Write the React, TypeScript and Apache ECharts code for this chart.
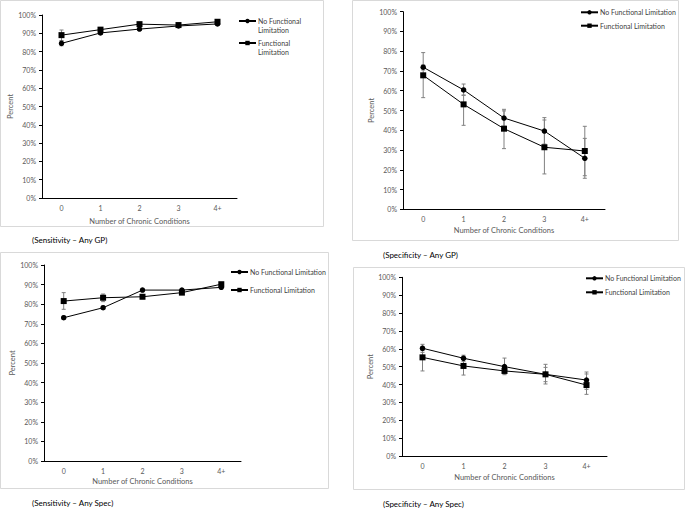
import React, { useEffect, useRef } from "react";
import * as echarts from "echarts";

const categories = ["0", "1", "2", "3", "4+"];
const legendNames = ["No Functional Limitation", "Functional Limitation"];
const captions = [
  "(Sensitivity – Any GP)",
  "(Specificity – Any GP)",
  "(Sensitivity – Any Spec)",
  "(Specificity – Any Spec)",
];

// Sensitivity – Any GP
const sensGpNoFL = [84.5, 90.2, 92.3, 94.0, 95.1];
const sensGpFL = [89.0, 92.0, 95.0, 94.5, 96.3];
const sensGpNoFLCi = [[83.2, 85.8], [89.4, 91.0], [91.6, 93.0], [93.4, 94.6], [94.5, 95.7]];
const sensGpFLCi = [[86.0, 91.8], [91.0, 93.0], [94.0, 96.0], [93.6, 95.4], [95.4, 97.2]];

// Specificity – Any GP
const specGpNoFL = [71.9, 60.4, 46.2, 39.6, 25.8];
const specGpFL = [67.8, 53.1, 40.8, 31.4, 29.5];
const specGpNoFLCi = [[70.5, 79.3], [57.7, 63.4], [42.0, 50.6], [33.0, 46.4], [15.7, 35.9]];
const specGpFLCi = [[56.5, 73.0], [42.5, 57.8], [30.7, 49.8], [17.9, 45.2], [17.0, 42.0]];

// Sensitivity – Any Spec
const sensSpNoFL = [73.1, 78.2, 87.2, 87.2, 88.6];
const sensSpFL = [81.6, 83.3, 83.8, 85.9, 90.2];
const sensSpNoFLCi = [[72.3, 73.9], [77.4, 79.0], [86.3, 88.1], [86.4, 88.0], [87.8, 89.4]];
const sensSpFLCi = [[77.4, 85.9], [81.3, 85.2], [82.8, 84.8], [85.0, 86.8], [89.3, 91.1]];

// Specificity – Any Spec
const specSpNoFL = [60.3, 54.7, 50.0, 45.7, 42.5];
const specSpFL = [55.2, 50.4, 47.6, 45.7, 39.7];
const specSpNoFLCi = [[58.0, 62.5], [53.0, 56.4], [45.5, 54.8], [40.3, 51.3], [37.3, 47.0]];
const specSpFLCi = [[47.6, 59.0], [45.3, 54.0], [46.0, 49.3], [41.6, 49.6], [34.5, 45.9]];

const panels = [
  { noFL: sensGpNoFL, fl: sensGpFL, noFLCi: sensGpNoFLCi, flCi: sensGpFLCi },
  { noFL: specGpNoFL, fl: specGpFL, noFLCi: specGpNoFLCi, flCi: specGpFLCi },
  { noFL: sensSpNoFL, fl: sensSpFL, noFLCi: sensSpNoFLCi, flCi: sensSpFLCi },
  { noFL: specSpNoFL, fl: specSpFL, noFLCi: specSpNoFLCi, flCi: specSpFLCi },
];

const FONT = "Lato";
const grids = [
  { left: 42, top: 15, width: 195, height: 183 },
  { left: 403, top: 11.7, width: 202, height: 197.6 },
  { left: 44, top: 265, width: 197, height: 196 },
  { left: 402, top: 277.3, width: 205, height: 178.7 },
];
const yNameGaps = [25, 26, 26, 27];
const xNameGaps = [19, 17, 16, 17];
// each legend: names shown, position, gap
const legendDefs = [
  { panel: 0, names: [legendNames[0]], left: 238, top: 7.5, itemGap: 0, twoLine: true },
  { panel: 0, names: [legendNames[1]], left: 238, top: 29.5, itemGap: 0, twoLine: true },
  { panel: 1, names: legendNames, left: 580, top: 7.8, itemGap: 4.4, twoLine: false },
  { panel: 2, names: legendNames, left: 230, top: 267.5, itemGap: 9, twoLine: false },
  { panel: 3, names: legendNames, left: 585, top: 273.8, itemGap: 5, twoLine: false },
];
const boxes = [
  { x: 0.5, y: 0.5, w: 323, h: 226 },
  { x: 352.5, y: 0.5, w: 326, h: 240 },
  { x: 0.5, y: 252.5, w: 328, h: 236 },
  { x: 353.5, y: 267.5, w: 331, h: 222 },
];
const captionPos = [
  { x: 32, y: 240 },
  { x: 383, y: 255 },
  { x: 32, y: 503 },
  { x: 383, y: 504 },
];

function errorRender(params: any, api: any) {
  const x = api.value(0);
  const lo = api.coord([x, api.value(1)]);
  const hi = api.coord([x, api.value(2)]);
  const style = { stroke: "#808080", lineWidth: 1 };
  const cw = 2;
  return {
    type: "group",
    children: [
      { type: "line", shape: { x1: lo[0], y1: lo[1], x2: hi[0], y2: hi[1] }, style },
      { type: "line", shape: { x1: lo[0] - cw, y1: lo[1], x2: lo[0] + cw, y2: lo[1] }, style },
      { type: "line", shape: { x1: hi[0] - cw, y1: hi[1], x2: hi[0] + cw, y2: hi[1] }, style },
    ],
  };
}

export default function App() {
  const ref = useRef<HTMLDivElement>(null);
  useEffect(() => {
    if (!ref.current) return;
    const chart = echarts.init(ref.current, undefined, { renderer: "svg" });

    const xAxis: any[] = [];
    const yAxis: any[] = [];
    const series: any[] = [];

    panels.forEach((p, i) => {
      xAxis.push({
        type: "category",
        gridIndex: i,
        data: categories,
        boundaryGap: true,
        name: "Number of Chronic Conditions",
        nameLocation: "middle",
        nameGap: xNameGaps[i],
        nameTextStyle: { fontFamily: FONT, fontSize: 7.5, color: "#595959" },
        axisLine: { lineStyle: { color: "#000", width: 1 } },
        axisTick: { alignWithLabel: true, length: 3, lineStyle: { color: "#000" } },
        axisLabel: { fontFamily: FONT, fontSize: 7, color: "#595959", margin: 6 },
        splitLine: { show: false },
      });
      yAxis.push({
        type: "value",
        gridIndex: i,
        min: 0,
        max: 100,
        interval: 10,
        name: "Percent",
        nameLocation: "middle",
        nameGap: yNameGaps[i],
        nameTextStyle: { fontFamily: FONT, fontSize: 7.5, color: "#595959" },
        axisLine: { show: true, lineStyle: { color: "#000", width: 1 } },
        axisTick: { show: true, length: 3, lineStyle: { color: "#000" } },
        axisLabel: {
          fontFamily: FONT,
          fontSize: 7,
          color: "#595959",
          margin: 6,
          formatter: (v: number) => v + "%",
        },
        splitLine: { show: false },
      });
      series.push({
        type: "custom",
        name: "ci-nofl-" + i,
        xAxisIndex: i,
        yAxisIndex: i,
        renderItem: errorRender,
        encode: { x: 0, y: [1, 2] },
        data: p.noFLCi.map((c, k) => [k, c[0], c[1]]),
        z: 1,
        silent: true,
      });
      series.push({
        type: "custom",
        name: "ci-fl-" + i,
        xAxisIndex: i,
        yAxisIndex: i,
        renderItem: errorRender,
        encode: { x: 0, y: [1, 2] },
        data: p.flCi.map((c, k) => [k, c[0], c[1]]),
        z: 1,
        silent: true,
      });
      series.push({
        type: "line",
        name: legendNames[0],
        xAxisIndex: i,
        yAxisIndex: i,
        data: p.noFL,
        symbol: "circle",
        symbolSize: 5.5,
        lineStyle: { color: "#000", width: 1 },
        itemStyle: { color: "#000" },
        z: 3,
      });
      series.push({
        type: "line",
        name: legendNames[1],
        xAxisIndex: i,
        yAxisIndex: i,
        data: p.fl,
        symbol: "rect",
        symbolSize: 6,
        lineStyle: { color: "#000", width: 1 },
        itemStyle: { color: "#000" },
        z: 3,
      });
    });

    const legend = legendDefs.map((d) => ({
      data: d.names,
      orient: "vertical",
      left: d.left,
      top: d.top,
      padding: 0,
      itemGap: d.itemGap,
      itemWidth: 17,
      itemHeight: 5.5,
      selectedMode: false,
      formatter: d.twoLine
        ? (n: string) =>
            n === legendNames[0]
              ? "\u00a0\nNo Functional\nLimitation"
              : "\u00a0\nFunctional\nLimitation"
        : undefined,
      textStyle: {
        fontFamily: FONT,
        fontSize: 7,
        color: "#404040",
        lineHeight: 9,
        padding: [0, 0, 0, -3],
      },
    }));

    const graphic: any[] = [];
    boxes.forEach((b) => {
      graphic.push({
        type: "rect",
        shape: { x: b.x, y: b.y, width: b.w, height: b.h },
        style: { fill: "none", stroke: "#d9d9d9", lineWidth: 1 },
        z: -10,
        silent: true,
      });
    });
    captions.forEach((c, i) => {
      graphic.push({
        type: "text",
        x: captionPos[i].x,
        y: captionPos[i].y,
        style: {
          text: c,
          fontFamily: FONT,
          fontSize: 8,
          fill: "#000",
          verticalAlign: "middle",
        },
      });
    });

    chart.setOption({
      animation: false,
      backgroundColor: "#fff",
      grid: grids.map((g) => ({ ...g, containLabel: false })),
      xAxis,
      yAxis,
      series,
      legend,
      graphic,
    });
    return () => chart.dispose();
  }, []);
  return (
    <div
      ref={ref}
      style={{ position: "fixed", left: 0, top: 0, width: 685, height: 509 }}
    />
  );
}
